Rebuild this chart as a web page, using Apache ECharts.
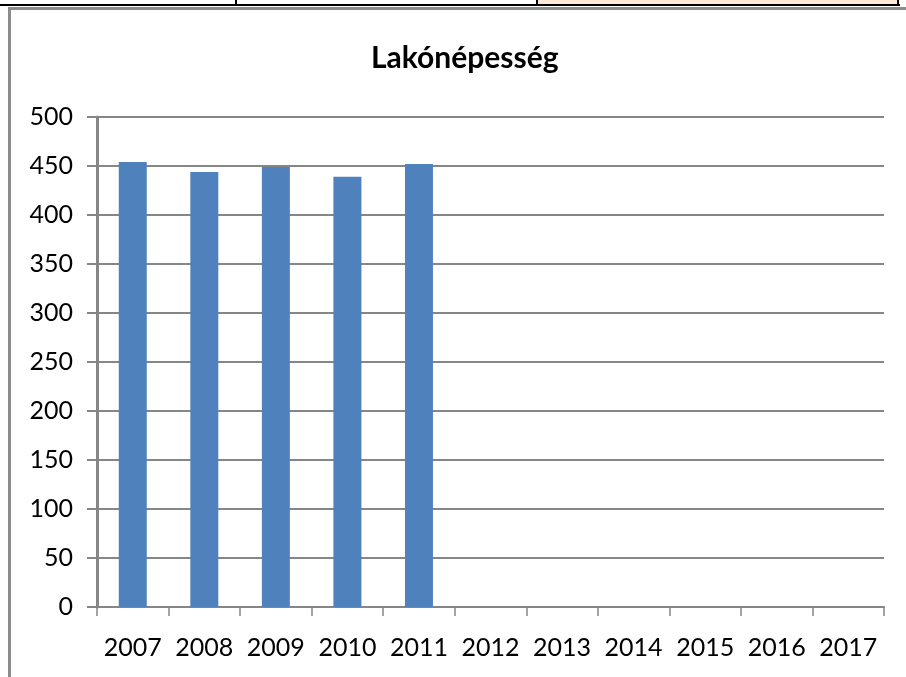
<!DOCTYPE html>
<html>
<head>
<meta charset="utf-8">
<script src="https://cdn.jsdelivr.net/npm/echarts@6/dist/echarts.min.js"></script>
<style>
html, body { margin: 0; padding: 0; background: #fff; }
#container { width: 906px; height: 677px; }
</style>
</head>
<body>
<div id="container"></div>
<script>
var years = ['2007', '2008', '2009', '2010', '2011', '2012', '2013', '2014', '2015', '2016', '2017'];
var population = [454, 444, 449, 439, 452, null, null, null, null, null, null];
var yTicks = { min: 0, max: 500, interval: 50 };

var myChart = echarts.init(document.getElementById('container'));

var option = {
	backgroundColor: '#fff',
	animation: false,
	title: {
		text: 'Lakónépesség',
		left: 366,
		top: 38,
		textStyle: {
			fontFamily: 'Lato',
			fontWeight: 'bold',
			fontSize: 30,
			color: '#000'
		}
	},
	// table fragment above the chart + the chart frame
	graphic: [
		{ type: 'rect', shape: { x: 537, y: 0, width: 361, height: 5 }, style: { fill: '#FDE9D9' } },
		{ type: 'rect', shape: { x: 0, y: 4, width: 900, height: 2 }, style: { fill: '#000' } },
		{ type: 'rect', shape: { x: 235, y: 0, width: 2, height: 6 }, style: { fill: '#000' } },
		{ type: 'rect', shape: { x: 536, y: 0, width: 2, height: 6 }, style: { fill: '#000' } },
		{ type: 'rect', shape: { x: 897, y: 0, width: 2, height: 6 }, style: { fill: '#000' } },
		{ type: 'rect', shape: { x: 8, y: 7, width: 898, height: 3 }, style: { fill: '#8c8c8c' } },
		{ type: 'rect', shape: { x: 8, y: 7, width: 3, height: 670 }, style: { fill: '#8c8c8c' } }
	],
	grid: {
		left: 97,
		right: 22,
		top: 117,
		bottom: 70
	},
	xAxis: {
		type: 'category',
		data: years,
		axisLine: { lineStyle: { color: '#868686', width: 2 } },
		axisTick: { show: true, interval: 0, length: 9, lineStyle: { color: '#868686', width: 1.5 } },
		axisLabel: {
			interval: 0,
			margin: 28,
			fontFamily: 'Lato',
			fontSize: 25,
			color: '#000'
		}
	},
	yAxis: {
		type: 'value',
		min: yTicks.min,
		max: yTicks.max,
		interval: yTicks.interval,
		axisLine: { show: true, lineStyle: { color: '#868686', width: 3 } },
		axisTick: { show: true, length: 10, lineStyle: { color: '#868686', width: 2 } },
		splitLine: { lineStyle: { color: '#868686', width: 2 } },
		axisLabel: {
			margin: 24,
			fontFamily: 'Lato',
			fontSize: 25,
			color: '#000'
		}
	},
	series: [{
		name: 'Lakónépesség',
		type: 'bar',
		data: population,
		barWidth: 28,
		itemStyle: { color: '#4F81BD' }
	}]
};

myChart.setOption(option);
</script>
</body>
</html>
